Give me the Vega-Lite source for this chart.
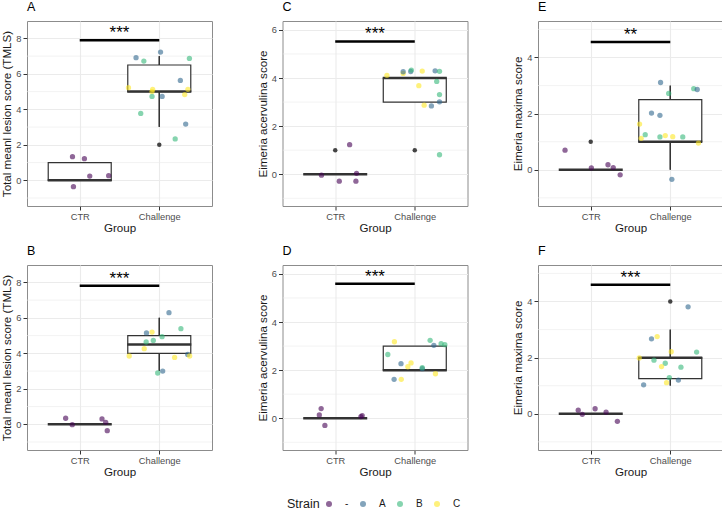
{
"$schema": "https://vega.github.io/schema/vega-lite/v6.json",
"padding": {"left": 0, "top": 0, "right": 1, "bottom": 0},
"bounds": "flush",
"columns": 3,
"spacing": {"row": 59, "column": 70.5},
"datasets": {
"minor": [{"y":-1},{"y":1},{"y":3},{"y":5},{"y":7}],
"points": [
{"p":"A","x":0.909,"y":1.33,"s":"-"},{"p":"A","x":1.059,"y":1.22,"s":"-"},{"p":"A","x":1.126,"y":0.24,"s":"-"},{"p":"A","x":1.364,"y":0.26,"s":"-"},{"p":"A","x":0.921,"y":-0.36,"s":"-"},
{"p":"A","x":1.708,"y":6.91,"s":"A"},{"p":"A","x":1.806,"y":6.72,"s":"B"},{"p":"A","x":2.016,"y":7.23,"s":"A"},{"p":"A","x":2.379,"y":6.87,"s":"B"},{"p":"A","x":2.265,"y":5.63,"s":"A"},{"p":"A","x":1.613,"y":5.22,"s":"C"},{"p":"A","x":1.917,"y":5.13,"s":"C"},{"p":"A","x":1.909,"y":5.0,"s":"C"},{"p":"A","x":1.909,"y":4.73,"s":"B"},{"p":"A","x":2.036,"y":4.73,"s":"A"},{"p":"A","x":2.36,"y":5.13,"s":"C"},{"p":"A","x":2.32,"y":4.83,"s":"C"},{"p":"A","x":1.767,"y":3.77,"s":"B"},{"p":"A","x":2.332,"y":3.17,"s":"A"},{"p":"A","x":2.2,"y":2.33,"s":"B"},
{"p":"C","x":1.181,"y":1.23,"s":"-"},{"p":"C","x":0.827,"y":-0.04,"s":"-"},{"p":"C","x":1.051,"y":-0.29,"s":"-"},{"p":"C","x":1.268,"y":0.04,"s":"-"},{"p":"C","x":1.26,"y":-0.29,"s":"-"},
{"p":"C","x":1.65,"y":4.11,"s":"C"},{"p":"C","x":1.854,"y":4.19,"s":"C"},{"p":"C","x":1.854,"y":4.26,"s":"A"},{"p":"C","x":1.949,"y":4.27,"s":"A"},{"p":"C","x":1.957,"y":4.33,"s":"B"},{"p":"C","x":2.094,"y":4.29,"s":"C"},{"p":"C","x":2.256,"y":4.30,"s":"A"},{"p":"C","x":2.311,"y":4.28,"s":"B"},{"p":"C","x":2.276,"y":3.86,"s":"B"},{"p":"C","x":2.051,"y":3.68,"s":"C"},{"p":"C","x":2.311,"y":3.31,"s":"B"},{"p":"C","x":2.311,"y":3.01,"s":"A"},{"p":"C","x":2.118,"y":2.87,"s":"C"},{"p":"C","x":2.209,"y":2.84,"s":"A"},{"p":"C","x":2.311,"y":0.81,"s":"B"},
{"p":"E","x":0.677,"y":0.70,"s":"-"},{"p":"E","x":1.008,"y":0.07,"s":"-"},{"p":"E","x":1.217,"y":0.18,"s":"-"},{"p":"E","x":1.283,"y":0.08,"s":"-"},{"p":"E","x":1.37,"y":-0.18,"s":"-"},
{"p":"E","x":1.878,"y":3.11,"s":"A"},{"p":"E","x":1.98,"y":2.72,"s":"B"},{"p":"E","x":2.295,"y":2.89,"s":"B"},{"p":"E","x":2.339,"y":2.86,"s":"A"},{"p":"E","x":1.764,"y":2.02,"s":"A"},{"p":"E","x":1.87,"y":1.94,"s":"A"},{"p":"E","x":1.614,"y":1.63,"s":"C"},{"p":"E","x":1.634,"y":1.12,"s":"C"},{"p":"E","x":1.685,"y":1.25,"s":"B"},{"p":"E","x":1.87,"y":1.17,"s":"B"},{"p":"E","x":1.937,"y":1.22,"s":"C"},{"p":"E","x":2.031,"y":1.18,"s":"C"},{"p":"E","x":2.157,"y":1.17,"s":"B"},{"p":"E","x":2.354,"y":0.95,"s":"C"},{"p":"E","x":2.02,"y":-0.34,"s":"A"},
{"p":"B","x":0.823,"y":0.34,"s":"-"},{"p":"B","x":0.906,"y":-0.02,"s":"-"},{"p":"B","x":1.28,"y":0.30,"s":"-"},{"p":"B","x":1.327,"y":0.11,"s":"-"},{"p":"B","x":1.346,"y":-0.36,"s":"-"},
{"p":"B","x":2.122,"y":6.29,"s":"A"},{"p":"B","x":2.272,"y":5.39,"s":"B"},{"p":"B","x":1.909,"y":5.20,"s":"C"},{"p":"B","x":1.839,"y":5.15,"s":"A"},{"p":"B","x":2.035,"y":4.94,"s":"B"},{"p":"B","x":1.925,"y":4.73,"s":"B"},{"p":"B","x":1.835,"y":4.64,"s":"B"},{"p":"B","x":1.811,"y":4.26,"s":"C"},{"p":"B","x":1.622,"y":3.85,"s":"C"},{"p":"B","x":2.358,"y":3.94,"s":"A"},{"p":"B","x":2.382,"y":3.85,"s":"C"},{"p":"B","x":2.193,"y":3.77,"s":"C"},{"p":"B","x":2.043,"y":3.0,"s":"A"},{"p":"B","x":1.98,"y":2.89,"s":"B"},
{"p":"D","x":0.823,"y":0.40,"s":"-"},{"p":"D","x":0.80,"y":0.14,"s":"-"},{"p":"D","x":0.87,"y":-0.30,"s":"-"},{"p":"D","x":1.323,"y":0.07,"s":"-"},{"p":"D","x":1.339,"y":0.11,"s":"-"},
{"p":"D","x":1.744,"y":3.18,"s":"C"},{"p":"D","x":2.193,"y":3.24,"s":"B"},{"p":"D","x":2.24,"y":3.03,"s":"A"},{"p":"D","x":2.331,"y":3.10,"s":"B"},{"p":"D","x":2.378,"y":3.06,"s":"B"},{"p":"D","x":1.661,"y":2.65,"s":"B"},{"p":"D","x":1.827,"y":2.27,"s":"A"},{"p":"D","x":1.953,"y":2.30,"s":"C"},{"p":"D","x":1.913,"y":2.14,"s":"C"},{"p":"D","x":2.094,"y":2.06,"s":"A"},{"p":"D","x":2.094,"y":2.10,"s":"B"},{"p":"D","x":2.26,"y":1.85,"s":"C"},{"p":"D","x":1.74,"y":1.62,"s":"A"},{"p":"D","x":1.83,"y":1.62,"s":"C"},
{"p":"F","x":0.843,"y":0.13,"s":"-"},{"p":"F","x":0.894,"y":-0.02,"s":"-"},{"p":"F","x":1.055,"y":0.18,"s":"-"},{"p":"F","x":1.193,"y":0.06,"s":"-"},{"p":"F","x":1.335,"y":-0.27,"s":"-"},
{"p":"F","x":2.224,"y":3.81,"s":"A"},{"p":"F","x":1.764,"y":2.67,"s":"A"},{"p":"F","x":1.835,"y":2.75,"s":"C"},{"p":"F","x":2.012,"y":2.21,"s":"C"},{"p":"F","x":2.331,"y":2.20,"s":"B"},{"p":"F","x":1.61,"y":1.99,"s":"C"},{"p":"F","x":1.795,"y":1.91,"s":"B"},{"p":"F","x":1.937,"y":1.80,"s":"B"},{"p":"F","x":1.89,"y":1.68,"s":"C"},{"p":"F","x":2.134,"y":1.66,"s":"B"},{"p":"F","x":1.988,"y":1.29,"s":"B"},{"p":"F","x":2.102,"y":1.20,"s":"A"},{"p":"F","x":1.953,"y":1.11,"s":"C"},{"p":"F","x":1.665,"y":1.03,"s":"A"}
],
"boxes": [
{"p":"A","grp":1,"lower":0,"q1":0,"median":0,"q3":1,"upper":1},{"p":"A","grp":2,"lower":3,"q1":5,"median":5,"q3":6.5,"upper":7},
{"p":"C","grp":1,"lower":0,"q1":0,"median":0,"q3":0,"upper":0},{"p":"C","grp":2,"lower":3,"q1":3,"median":4,"q3":4,"upper":4},
{"p":"E","grp":1,"lower":0,"q1":0,"median":0,"q3":0,"upper":0},{"p":"E","grp":2,"lower":0,"q1":1,"median":1,"q3":2.5,"upper":3},
{"p":"B","grp":1,"lower":0,"q1":0,"median":0,"q3":0,"upper":0},{"p":"B","grp":2,"lower":3,"q1":4,"median":4.5,"q3":5,"upper":6},
{"p":"D","grp":1,"lower":0,"q1":0,"median":0,"q3":0,"upper":0},{"p":"D","grp":2,"lower":2,"q1":2,"median":2,"q3":3,"upper":3},
{"p":"F","grp":1,"lower":0,"q1":0,"median":0,"q3":0,"upper":0},{"p":"F","grp":2,"lower":1,"q1":1.25,"median":2,"q3":2,"upper":3}
],
"outliers": [
{"p":"A","grp":2,"y":2},{"p":"C","grp":1,"y":1},{"p":"C","grp":2,"y":1},{"p":"E","grp":1,"y":1},{"p":"F","grp":2,"y":4}
],
"sig": [
{"p":"A","x1":1,"x2":2,"xm":1.5,"y":7.89,"label":"***"},
{"p":"C","x1":1,"x2":2,"xm":1.5,"y":5.52,"label":"***"},
{"p":"E","x1":1,"x2":2,"xm":1.5,"y":4.556,"label":"**"},
{"p":"B","x1":1,"x2":2,"xm":1.5,"y":7.81,"label":"***"},
{"p":"D","x1":1,"x2":2,"xm":1.5,"y":5.59,"label":"***"},
{"p":"F","x1":1,"x2":2,"xm":1.5,"y":4.60,"label":"***"}
]
},
"concat": [
{"width":185,"height":185,"title":"A","layer":[
{"data":{"name":"boxes"},"transform":[{"filter":"datum.p=='A'"}],"mark":{"type":"rule","color":"#333333","strokeWidth":1.2},"encoding":{"x":{"field":"grp","type":"quantitative","scale":{"domain":[0.4,2.6],"nice":false,"zero":false},"axis":{"values":[1,2],"labelExpr":"datum.value == 1 ? 'CTR' : 'Challenge'","title":"Group"}},"y":{"field":"lower","type":"quantitative","scale":{"domain":[-1.45,8.98],"nice":false,"zero":false},"axis":{"values":[0,2,4,6,8],"title":"Total meanl lesion score (TMLS)"}},"y2":{"field":"upper"}}},
{"data":{"name":"minor"},"mark":{"type":"rule","color":"#ebebeb","strokeWidth":0.6,"clip":true},"encoding":{"y":{"field":"y","type":"quantitative"}}},
{"data":{"name":"boxes"},"transform":[{"filter":"datum.p=='A'"}],"mark":{"type":"rule","color":"#333333","strokeWidth":1.2},"encoding":{"x":{"field":"grp","type":"quantitative"},"y":{"field":"lower","type":"quantitative"},"y2":{"field":"upper"}}},
{"data":{"name":"boxes"},"transform":[{"filter":"datum.p=='A'"}],"mark":{"type":"bar","width":63,"fill":"white","stroke":"#333333","strokeWidth":1.2},"encoding":{"x":{"field":"grp","type":"quantitative"},"y":{"field":"q1","type":"quantitative"},"y2":{"field":"q3"}}},
{"data":{"name":"boxes"},"transform":[{"filter":"datum.p=='A'"}],"mark":{"type":"tick","orient":"horizontal","size":64,"thickness":2.5,"color":"#333333","opacity":1},"encoding":{"x":{"field":"grp","type":"quantitative"},"y":{"field":"median","type":"quantitative"}}},
{"data":{"name":"outliers"},"transform":[{"filter":"datum.p=='A'"}],"mark":{"type":"circle","size":20,"color":"#444444","opacity":1},"encoding":{"x":{"field":"grp","type":"quantitative"},"y":{"field":"y","type":"quantitative"}}},
{"data":{"name":"points"},"transform":[{"filter":"datum.p=='A'"}],"mark":{"type":"circle","size":28,"opacity":0.6},"encoding":{"x":{"field":"x","type":"quantitative"},"y":{"field":"y","type":"quantitative"},"color":{"field":"s","type":"nominal","title":"Strain","scale":{"domain":["-","A","B","C"],"range":["#440154","#31688E","#35B779","#FDE725"]}}}},
{"data":{"name":"sig"},"transform":[{"filter":"datum.p=='A'"}],"mark":{"type":"rule","color":"black","strokeWidth":2.5},"encoding":{"x":{"field":"x1","type":"quantitative"},"x2":{"field":"x2"},"y":{"field":"y","type":"quantitative"}}},
{"data":{"name":"sig"},"transform":[{"filter":"datum.p=='A'"}],"mark":{"type":"text","fontSize":17,"baseline":"alphabetic","dy":-2,"color":"black"},"encoding":{"x":{"field":"xm","type":"quantitative"},"y":{"field":"y","type":"quantitative"},"text":{"field":"label"}}}
]},
{"width":185,"height":185,"title":"C","layer":[
{"data":{"name":"boxes"},"transform":[{"filter":"datum.p=='C'"}],"mark":{"type":"rule","color":"#333333","strokeWidth":1.2},"encoding":{"x":{"field":"grp","type":"quantitative","scale":{"domain":[0.4,2.6],"nice":false,"zero":false},"axis":{"values":[1,2],"labelExpr":"datum.value == 1 ? 'CTR' : 'Challenge'","title":"Group"}},"y":{"field":"lower","type":"quantitative","scale":{"domain":[-1.32,6.37],"nice":false,"zero":false},"axis":{"values":[0,2,4,6],"title":"Eimeria acervulina score"}},"y2":{"field":"upper"}}},
{"data":{"name":"minor"},"mark":{"type":"rule","color":"#ebebeb","strokeWidth":0.6,"clip":true},"encoding":{"y":{"field":"y","type":"quantitative"}}},
{"data":{"name":"boxes"},"transform":[{"filter":"datum.p=='C'"}],"mark":{"type":"rule","color":"#333333","strokeWidth":1.2},"encoding":{"x":{"field":"grp","type":"quantitative"},"y":{"field":"lower","type":"quantitative"},"y2":{"field":"upper"}}},
{"data":{"name":"boxes"},"transform":[{"filter":"datum.p=='C'"}],"mark":{"type":"bar","width":63,"fill":"white","stroke":"#333333","strokeWidth":1.2},"encoding":{"x":{"field":"grp","type":"quantitative"},"y":{"field":"q1","type":"quantitative"},"y2":{"field":"q3"}}},
{"data":{"name":"boxes"},"transform":[{"filter":"datum.p=='C'"}],"mark":{"type":"tick","orient":"horizontal","size":64,"thickness":2.5,"color":"#333333","opacity":1},"encoding":{"x":{"field":"grp","type":"quantitative"},"y":{"field":"median","type":"quantitative"}}},
{"data":{"name":"outliers"},"transform":[{"filter":"datum.p=='C'"}],"mark":{"type":"circle","size":20,"color":"#444444","opacity":1},"encoding":{"x":{"field":"grp","type":"quantitative"},"y":{"field":"y","type":"quantitative"}}},
{"data":{"name":"points"},"transform":[{"filter":"datum.p=='C'"}],"mark":{"type":"circle","size":28,"opacity":0.6},"encoding":{"x":{"field":"x","type":"quantitative"},"y":{"field":"y","type":"quantitative"},"color":{"field":"s","type":"nominal","title":"Strain","scale":{"domain":["-","A","B","C"],"range":["#440154","#31688E","#35B779","#FDE725"]}}}},
{"data":{"name":"sig"},"transform":[{"filter":"datum.p=='C'"}],"mark":{"type":"rule","color":"black","strokeWidth":2.5},"encoding":{"x":{"field":"x1","type":"quantitative"},"x2":{"field":"x2"},"y":{"field":"y","type":"quantitative"}}},
{"data":{"name":"sig"},"transform":[{"filter":"datum.p=='C'"}],"mark":{"type":"text","fontSize":17,"baseline":"alphabetic","dy":-2,"color":"black"},"encoding":{"x":{"field":"xm","type":"quantitative"},"y":{"field":"y","type":"quantitative"},"text":{"field":"label"}}}
]},
{"width":185,"height":185,"title":"E","layer":[
{"data":{"name":"boxes"},"transform":[{"filter":"datum.p=='E'"}],"mark":{"type":"rule","color":"#333333","strokeWidth":1.2},"encoding":{"x":{"field":"grp","type":"quantitative","scale":{"domain":[0.4,2.6],"nice":false,"zero":false},"axis":{"values":[1,2],"labelExpr":"datum.value == 1 ? 'CTR' : 'Challenge'","title":"Group"}},"y":{"field":"lower","type":"quantitative","scale":{"domain":[-1.29,5.30],"nice":false,"zero":false},"axis":{"values":[0,2,4],"title":"Eimeria maxima score"}},"y2":{"field":"upper"}}},
{"data":{"name":"minor"},"mark":{"type":"rule","color":"#ebebeb","strokeWidth":0.6,"clip":true},"encoding":{"y":{"field":"y","type":"quantitative"}}},
{"data":{"name":"boxes"},"transform":[{"filter":"datum.p=='E'"}],"mark":{"type":"rule","color":"#333333","strokeWidth":1.2},"encoding":{"x":{"field":"grp","type":"quantitative"},"y":{"field":"lower","type":"quantitative"},"y2":{"field":"upper"}}},
{"data":{"name":"boxes"},"transform":[{"filter":"datum.p=='E'"}],"mark":{"type":"bar","width":63,"fill":"white","stroke":"#333333","strokeWidth":1.2},"encoding":{"x":{"field":"grp","type":"quantitative"},"y":{"field":"q1","type":"quantitative"},"y2":{"field":"q3"}}},
{"data":{"name":"boxes"},"transform":[{"filter":"datum.p=='E'"}],"mark":{"type":"tick","orient":"horizontal","size":64,"thickness":2.5,"color":"#333333","opacity":1},"encoding":{"x":{"field":"grp","type":"quantitative"},"y":{"field":"median","type":"quantitative"}}},
{"data":{"name":"outliers"},"transform":[{"filter":"datum.p=='E'"}],"mark":{"type":"circle","size":20,"color":"#444444","opacity":1},"encoding":{"x":{"field":"grp","type":"quantitative"},"y":{"field":"y","type":"quantitative"}}},
{"data":{"name":"points"},"transform":[{"filter":"datum.p=='E'"}],"mark":{"type":"circle","size":28,"opacity":0.6},"encoding":{"x":{"field":"x","type":"quantitative"},"y":{"field":"y","type":"quantitative"},"color":{"field":"s","type":"nominal","title":"Strain","scale":{"domain":["-","A","B","C"],"range":["#440154","#31688E","#35B779","#FDE725"]}}}},
{"data":{"name":"sig"},"transform":[{"filter":"datum.p=='E'"}],"mark":{"type":"rule","color":"black","strokeWidth":2.5},"encoding":{"x":{"field":"x1","type":"quantitative"},"x2":{"field":"x2"},"y":{"field":"y","type":"quantitative"}}},
{"data":{"name":"sig"},"transform":[{"filter":"datum.p=='E'"}],"mark":{"type":"text","fontSize":17,"baseline":"alphabetic","dy":-2,"color":"black"},"encoding":{"x":{"field":"xm","type":"quantitative"},"y":{"field":"y","type":"quantitative"},"text":{"field":"label"}}}
]},
{"width":185,"height":185,"title":"B","layer":[
{"data":{"name":"boxes"},"transform":[{"filter":"datum.p=='B'"}],"mark":{"type":"rule","color":"#333333","strokeWidth":1.2},"encoding":{"x":{"field":"grp","type":"quantitative","scale":{"domain":[0.4,2.6],"nice":false,"zero":false},"axis":{"values":[1,2],"labelExpr":"datum.value == 1 ? 'CTR' : 'Challenge'","title":"Group"}},"y":{"field":"lower","type":"quantitative","scale":{"domain":[-1.45,8.98],"nice":false,"zero":false},"axis":{"values":[0,2,4,6,8],"title":"Total meanl lesion score (TMLS)"}},"y2":{"field":"upper"}}},
{"data":{"name":"minor"},"mark":{"type":"rule","color":"#ebebeb","strokeWidth":0.6,"clip":true},"encoding":{"y":{"field":"y","type":"quantitative"}}},
{"data":{"name":"boxes"},"transform":[{"filter":"datum.p=='B'"}],"mark":{"type":"rule","color":"#333333","strokeWidth":1.2},"encoding":{"x":{"field":"grp","type":"quantitative"},"y":{"field":"lower","type":"quantitative"},"y2":{"field":"upper"}}},
{"data":{"name":"boxes"},"transform":[{"filter":"datum.p=='B'"}],"mark":{"type":"bar","width":63,"fill":"white","stroke":"#333333","strokeWidth":1.2},"encoding":{"x":{"field":"grp","type":"quantitative"},"y":{"field":"q1","type":"quantitative"},"y2":{"field":"q3"}}},
{"data":{"name":"boxes"},"transform":[{"filter":"datum.p=='B'"}],"mark":{"type":"tick","orient":"horizontal","size":64,"thickness":2.5,"color":"#333333","opacity":1},"encoding":{"x":{"field":"grp","type":"quantitative"},"y":{"field":"median","type":"quantitative"}}},
{"data":{"name":"points"},"transform":[{"filter":"datum.p=='B'"}],"mark":{"type":"circle","size":28,"opacity":0.6},"encoding":{"x":{"field":"x","type":"quantitative"},"y":{"field":"y","type":"quantitative"},"color":{"field":"s","type":"nominal","title":"Strain","scale":{"domain":["-","A","B","C"],"range":["#440154","#31688E","#35B779","#FDE725"]}}}},
{"data":{"name":"sig"},"transform":[{"filter":"datum.p=='B'"}],"mark":{"type":"rule","color":"black","strokeWidth":2.5},"encoding":{"x":{"field":"x1","type":"quantitative"},"x2":{"field":"x2"},"y":{"field":"y","type":"quantitative"}}},
{"data":{"name":"sig"},"transform":[{"filter":"datum.p=='B'"}],"mark":{"type":"text","fontSize":17,"baseline":"alphabetic","dy":-2,"color":"black"},"encoding":{"x":{"field":"xm","type":"quantitative"},"y":{"field":"y","type":"quantitative"},"text":{"field":"label"}}}
]},
{"width":185,"height":185,"title":"D","layer":[
{"data":{"name":"boxes"},"transform":[{"filter":"datum.p=='D'"}],"mark":{"type":"rule","color":"#333333","strokeWidth":1.2},"encoding":{"x":{"field":"grp","type":"quantitative","scale":{"domain":[0.4,2.6],"nice":false,"zero":false},"axis":{"values":[1,2],"labelExpr":"datum.value == 1 ? 'CTR' : 'Challenge'","title":"Group"}},"y":{"field":"lower","type":"quantitative","scale":{"domain":[-1.32,6.37],"nice":false,"zero":false},"axis":{"values":[0,2,4,6],"title":"Eimeria acervulina score"}},"y2":{"field":"upper"}}},
{"data":{"name":"minor"},"mark":{"type":"rule","color":"#ebebeb","strokeWidth":0.6,"clip":true},"encoding":{"y":{"field":"y","type":"quantitative"}}},
{"data":{"name":"boxes"},"transform":[{"filter":"datum.p=='D'"}],"mark":{"type":"rule","color":"#333333","strokeWidth":1.2},"encoding":{"x":{"field":"grp","type":"quantitative"},"y":{"field":"lower","type":"quantitative"},"y2":{"field":"upper"}}},
{"data":{"name":"boxes"},"transform":[{"filter":"datum.p=='D'"}],"mark":{"type":"bar","width":63,"fill":"white","stroke":"#333333","strokeWidth":1.2},"encoding":{"x":{"field":"grp","type":"quantitative"},"y":{"field":"q1","type":"quantitative"},"y2":{"field":"q3"}}},
{"data":{"name":"boxes"},"transform":[{"filter":"datum.p=='D'"}],"mark":{"type":"tick","orient":"horizontal","size":64,"thickness":2.5,"color":"#333333","opacity":1},"encoding":{"x":{"field":"grp","type":"quantitative"},"y":{"field":"median","type":"quantitative"}}},
{"data":{"name":"points"},"transform":[{"filter":"datum.p=='D'"}],"mark":{"type":"circle","size":28,"opacity":0.6},"encoding":{"x":{"field":"x","type":"quantitative"},"y":{"field":"y","type":"quantitative"},"color":{"field":"s","type":"nominal","title":"Strain","scale":{"domain":["-","A","B","C"],"range":["#440154","#31688E","#35B779","#FDE725"]}}}},
{"data":{"name":"sig"},"transform":[{"filter":"datum.p=='D'"}],"mark":{"type":"rule","color":"black","strokeWidth":2.5},"encoding":{"x":{"field":"x1","type":"quantitative"},"x2":{"field":"x2"},"y":{"field":"y","type":"quantitative"}}},
{"data":{"name":"sig"},"transform":[{"filter":"datum.p=='D'"}],"mark":{"type":"text","fontSize":17,"baseline":"alphabetic","dy":-2,"color":"black"},"encoding":{"x":{"field":"xm","type":"quantitative"},"y":{"field":"y","type":"quantitative"},"text":{"field":"label"}}}
]},
{"width":185,"height":185,"title":"F","layer":[
{"data":{"name":"boxes"},"transform":[{"filter":"datum.p=='F'"}],"mark":{"type":"rule","color":"#333333","strokeWidth":1.2},"encoding":{"x":{"field":"grp","type":"quantitative","scale":{"domain":[0.4,2.6],"nice":false,"zero":false},"axis":{"values":[1,2],"labelExpr":"datum.value == 1 ? 'CTR' : 'Challenge'","title":"Group"}},"y":{"field":"lower","type":"quantitative","scale":{"domain":[-1.29,5.30],"nice":false,"zero":false},"axis":{"values":[0,2,4],"title":"Eimeria maxima score"}},"y2":{"field":"upper"}}},
{"data":{"name":"minor"},"mark":{"type":"rule","color":"#ebebeb","strokeWidth":0.6,"clip":true},"encoding":{"y":{"field":"y","type":"quantitative"}}},
{"data":{"name":"boxes"},"transform":[{"filter":"datum.p=='F'"}],"mark":{"type":"rule","color":"#333333","strokeWidth":1.2},"encoding":{"x":{"field":"grp","type":"quantitative"},"y":{"field":"lower","type":"quantitative"},"y2":{"field":"upper"}}},
{"data":{"name":"boxes"},"transform":[{"filter":"datum.p=='F'"}],"mark":{"type":"bar","width":63,"fill":"white","stroke":"#333333","strokeWidth":1.2},"encoding":{"x":{"field":"grp","type":"quantitative"},"y":{"field":"q1","type":"quantitative"},"y2":{"field":"q3"}}},
{"data":{"name":"boxes"},"transform":[{"filter":"datum.p=='F'"}],"mark":{"type":"tick","orient":"horizontal","size":64,"thickness":2.5,"color":"#333333","opacity":1},"encoding":{"x":{"field":"grp","type":"quantitative"},"y":{"field":"median","type":"quantitative"}}},
{"data":{"name":"outliers"},"transform":[{"filter":"datum.p=='F'"}],"mark":{"type":"circle","size":20,"color":"#444444","opacity":1},"encoding":{"x":{"field":"grp","type":"quantitative"},"y":{"field":"y","type":"quantitative"}}},
{"data":{"name":"points"},"transform":[{"filter":"datum.p=='F'"}],"mark":{"type":"circle","size":28,"opacity":0.6},"encoding":{"x":{"field":"x","type":"quantitative"},"y":{"field":"y","type":"quantitative"},"color":{"field":"s","type":"nominal","title":"Strain","scale":{"domain":["-","A","B","C"],"range":["#440154","#31688E","#35B779","#FDE725"]}}}},
{"data":{"name":"sig"},"transform":[{"filter":"datum.p=='F'"}],"mark":{"type":"rule","color":"black","strokeWidth":2.5},"encoding":{"x":{"field":"x1","type":"quantitative"},"x2":{"field":"x2"},"y":{"field":"y","type":"quantitative"}}},
{"data":{"name":"sig"},"transform":[{"filter":"datum.p=='F'"}],"mark":{"type":"text","fontSize":17,"baseline":"alphabetic","dy":-2,"color":"black"},"encoding":{"x":{"field":"xm","type":"quantitative"},"y":{"field":"y","type":"quantitative"},"text":{"field":"label"}}}
]}
],
"config": {
"font": "Liberation Sans",
"background": "white",
"view": {"stroke": "#8c8c8c", "strokeWidth": 1},
"title": {"fontSize": 12.5, "fontWeight": "normal", "anchor": "start", "frame": "group", "offset": 8, "color": "black"},
"axis": {"labelFontSize": 9.3, "labelColor": "#4d4d4d", "titleFontSize": 11.6, "titleFontWeight": "normal", "titleColor": "#1a1a1a", "tickColor": "#333333", "tickSize": 4, "domain": false, "grid": true, "gridColor": "#ebebeb", "gridWidth": 1.1, "labelPadding": 2, "labelOverlap": false, "labelFlush": false, "minExtent": 0},
"axisY": {"titleX": -19.5, "titleBaseline": "middle", "titleAlign": "center", "titleAngle": 270},
"axisX": {"titlePadding": 1},
"legend": {"orient": "none", "legendX": 260, "legendY": 478, "direction": "horizontal", "titleOrient": "left", "titleFontSize": 12.5, "titleFontWeight": "normal", "titleColor": "#1a1a1a", "labelFontSize": 10, "labelColor": "#1a1a1a", "symbolType": "circle", "symbolSize": 36, "symbolOpacity": 0.6, "symbolStrokeWidth": 0, "labelOffset": 11, "columnPadding": 9, "titlePadding": 4}
}
}
